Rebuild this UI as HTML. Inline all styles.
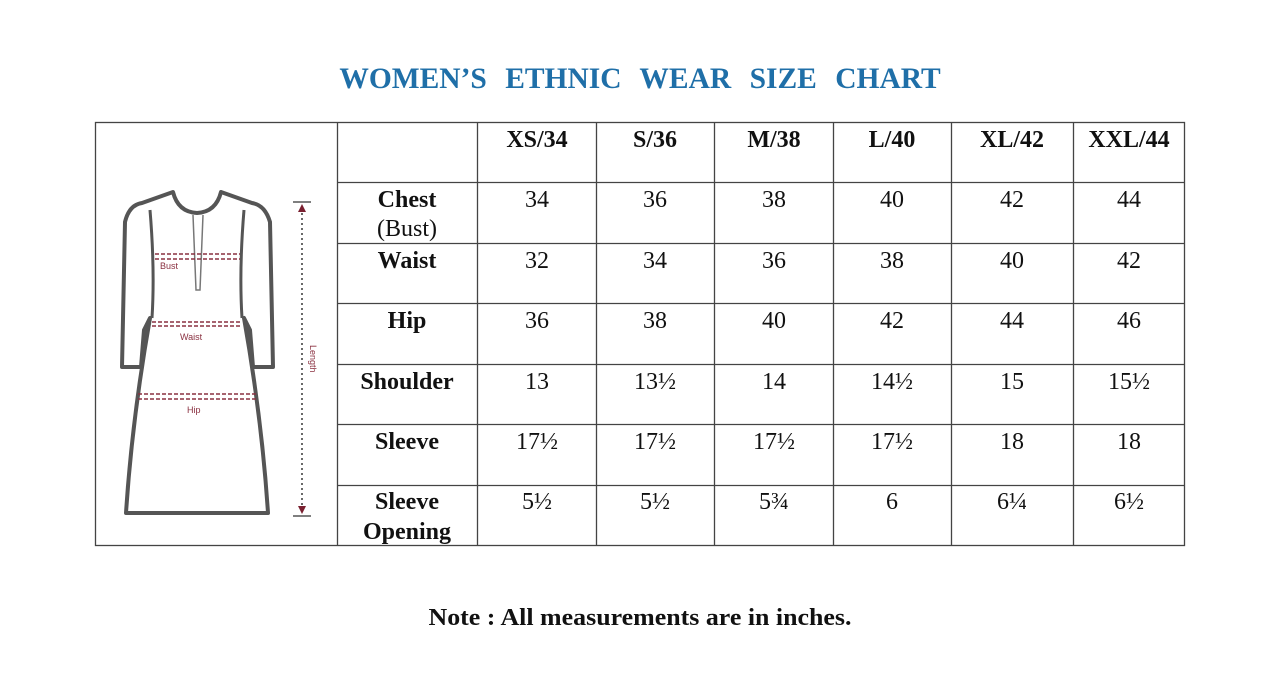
<!DOCTYPE html>
<html><head><meta charset="utf-8"><style>
html,body{margin:0;padding:0;background:#fff;}
svg{display:block}
</style></head><body>
<svg width="1280" height="690" viewBox="0 0 1280 690" xmlns="http://www.w3.org/2000/svg" font-family="'Liberation Serif', 'Times New Roman', serif">
<text x="640" y="88" text-anchor="middle" font-size="29.5" font-weight="bold" fill="#1f6fa8" font-family="'Liberation Serif', serif" word-spacing="11">WOMEN’S ETHNIC WEAR SIZE CHART</text>
<g stroke="#444" stroke-width="1.3" fill="none">
<rect x="95.5" y="122.5" width="1089" height="423"/>
<line x1="337.5" y1="122" x2="337.5" y2="545"/>
<line x1="477.5" y1="122" x2="477.5" y2="545"/>
<line x1="596.5" y1="122" x2="596.5" y2="545"/>
<line x1="714.5" y1="122" x2="714.5" y2="545"/>
<line x1="833.5" y1="122" x2="833.5" y2="545"/>
<line x1="951.5" y1="122" x2="951.5" y2="545"/>
<line x1="1073.5" y1="122" x2="1073.5" y2="545"/>
<line x1="337" y1="182.5" x2="1184" y2="182.5"/>
<line x1="337" y1="243.5" x2="1184" y2="243.5"/>
<line x1="337" y1="303.5" x2="1184" y2="303.5"/>
<line x1="337" y1="364.5" x2="1184" y2="364.5"/>
<line x1="337" y1="424.5" x2="1184" y2="424.5"/>
<line x1="337" y1="485.5" x2="1184" y2="485.5"/>
</g>
<g font-size="24" font-weight="bold" text-anchor="middle" fill="#111" font-family="'Liberation Serif', serif">
<text x="537" y="147">XS/34</text><text x="655" y="147">S/36</text><text x="774" y="147">M/38</text>
<text x="892" y="147">L/40</text><text x="1012" y="147">XL/42</text><text x="1129" y="147">XXL/44</text>
<text x="407" y="207">Chest</text><text x="407" y="268">Waist</text><text x="407" y="328">Hip</text>
<text x="407" y="389">Shoulder</text><text x="407" y="449">Sleeve</text><text x="407" y="509">Sleeve</text>
<text x="407" y="539">Opening</text>
</g>
<g font-size="24" text-anchor="middle" fill="#111" font-family="'Liberation Serif', serif">
<text x="407" y="236">(Bust)</text>
<text x="537" y="207">34</text><text x="655" y="207">36</text><text x="774" y="207">38</text><text x="892" y="207">40</text><text x="1012" y="207">42</text><text x="1129" y="207">44</text>
<text x="537" y="268">32</text><text x="655" y="268">34</text><text x="774" y="268">36</text><text x="892" y="268">38</text><text x="1012" y="268">40</text><text x="1129" y="268">42</text>
<text x="537" y="328">36</text><text x="655" y="328">38</text><text x="774" y="328">40</text><text x="892" y="328">42</text><text x="1012" y="328">44</text><text x="1129" y="328">46</text>
<text x="537" y="389">13</text><text x="655" y="389">13½</text><text x="774" y="389">14</text><text x="892" y="389">14½</text><text x="1012" y="389">15</text><text x="1129" y="389">15½</text>
<text x="537" y="449">17½</text><text x="655" y="449">17½</text><text x="774" y="449">17½</text><text x="892" y="449">17½</text><text x="1012" y="449">18</text><text x="1129" y="449">18</text>
<text x="537" y="509">5½</text><text x="655" y="509">5½</text><text x="774" y="509">5¾</text><text x="892" y="509">6</text><text x="1012" y="509">6¼</text><text x="1129" y="509">6½</text>
</g>
<text x="640" y="625" text-anchor="middle" font-size="24" font-weight="bold" fill="#111" font-family="'Liberation Serif', serif" textLength="423" lengthAdjust="spacingAndGlyphs">Note : All measurements are in inches.</text>
<!-- dress -->
<g fill="none" stroke="#555" stroke-width="4" stroke-linejoin="round">
<path d="M173,192 Q178,212 197,213 Q216,212 221,192 L252,203 Q265,205 270,222 L273,367 L253,367 L250,330 Q245,320 244,318 Q262,420 268,513 L126,513 Q132,420 150,318 Q149,320 144,330 L141,367 L122,367 L125,222 Q129,205 142,203 Z"/>
<path d="M150,210 Q155,270 152,318" stroke-width="3"/>
<path d="M244,210 Q239,270 242,318" stroke-width="3"/>
</g>
<path d="M193,215 L196,290 L200,290 L203,215" fill="none" stroke="#777" stroke-width="1.5"/>
<g stroke="#8a3040" stroke-width="1.6" stroke-dasharray="4,2" fill="none">
<path d="M155,254 L240,254"/><path d="M155,259 L240,259"/>
<path d="M152,322 L242,322"/><path d="M152,326 L242,326"/>
<path d="M138,394 L256,394"/><path d="M138,399 L256,399"/>
<path d="M302,208 L302,507" stroke="#444" stroke-dasharray="2,3"/>
</g>
<g stroke="#555" stroke-width="1.5"><line x1="293" y1="202" x2="311" y2="202"/><line x1="293" y1="516" x2="311" y2="516"/></g>
<path d="M298,212 L302,204 L306,212 Z M298,506 L302,514 L306,506 Z" fill="#7a2030"/>
<g fill="#8a3040" font-family="'Liberation Sans', sans-serif" font-size="9">
<text x="160" y="269">Bust</text>
<text x="180" y="340">Waist</text>
<text x="187" y="413">Hip</text>
<text transform="translate(310,345) rotate(90)">Length</text>
</g>
</svg>
</body></html>
